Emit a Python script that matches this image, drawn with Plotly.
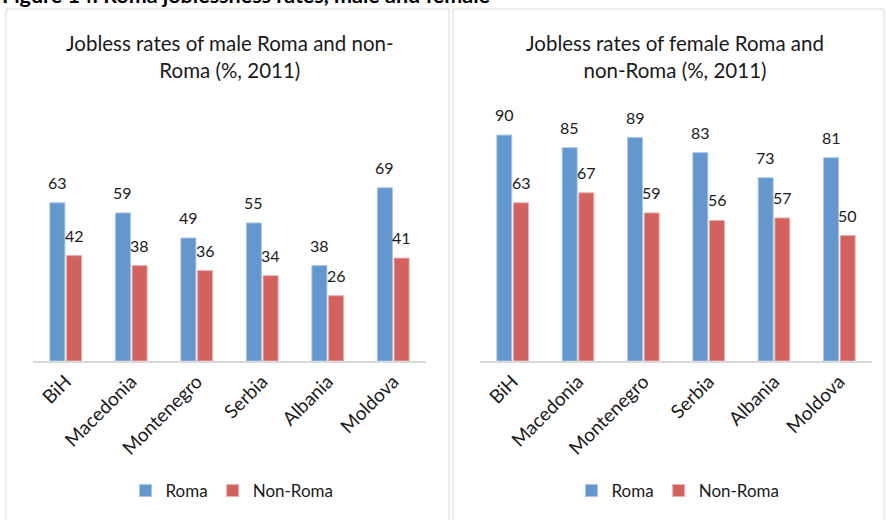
import plotly.graph_objects as go

# Data:
countries = ["BiH", "Macedonia", "Montenegro", "Serbia", "Albania", "Moldova"]
male_roma = [63, 59, 49, 55, 38, 69]
male_non_roma = [42, 38, 36, 34, 26, 41]
female_roma = [90, 85, 89, 83, 73, 81]
female_non_roma = [63, 67, 59, 56, 57, 50]

# Styles:
col_roma = "#6397CD"
col_non = "#D1625E"
font_name = "Lato"
W, H = 886, 520
bargap = 0.49
bargroupgap = 0.1

def px_x(p):
    return p / W

def px_y(p):
    return 1 - p / H

fig = go.Figure()

panels = [
    ("x", "y", "legend", male_roma, male_non_roma, 33, 426),
    ("x2", "y2", "legend2", female_roma, female_non_roma, 480, 872),
]
annotations = []
for xa, ya, leg, roma, non, x0, x1 in panels:
    # pixel offset of each bar centre from its category centre
    slot = (x1 - x0) / len(countries) * (1 - bargap) / 2
    for k, (name, vals, col, edge) in enumerate([("Roma", roma, col_roma, "#A9C6E6"),
                                                 ("Non-Roma", non, col_non, "#E8B0AE")]):
        fig.add_trace(
            go.Bar(
                x = countries,
                y = vals,
                name = name,
                xaxis = xa,
                yaxis = ya,
                legend = leg,
                marker = dict(color = col, line = dict(color = edge, width = 1)),
            )
        )
        # value labels, lifted a bit above the bars like the original
        for c, v in zip(countries, vals):
            annotations.append(
                dict(text = str(v), x = c, y = v, xref = xa, yref = ya,
                     showarrow = False, xanchor = "center", yanchor = "bottom",
                     xshift = (k - 0.5) * slot, yshift = 9,
                     font = dict(size = 16, color = "#1a1a1a", family = font_name))
            )

axis_common = dict(
    showgrid = False,
    zeroline = False,
    showline = True,
    linecolor = "#D9D9D9",
    linewidth = 2,
    ticks = "",
    tickangle = -45,
    tickfont = dict(size = 19, color = "#1a1a1a", family = font_name),
    fixedrange = True,
)
yaxis_common = dict(
    range = [0, 100],
    domain = [px_y(361), px_y(110)],
    visible = False,
)

legend_common = dict(
    orientation = "h",
    xanchor = "center",
    yanchor = "middle",
    y = px_y(491),
    font = dict(size = 17, color = "#1a1a1a", family = font_name),
    bgcolor = "rgba(0,0,0,0)",
    itemwidth = 30,
)

annotations += [
    dict(text = "Jobless rates of male Roma and non-<br>Roma (%, 2011)",
         x = px_x(230), y = px_y(56), xref = "paper", yref = "paper",
         showarrow = False, xanchor = "center", yanchor = "middle",
         font = dict(size = 20.5, color = "#1a1a1a", family = font_name)),
    dict(text = "Jobless rates of female Roma and<br>non-Roma (%, 2011)",
         x = px_x(675), y = px_y(56), xref = "paper", yref = "paper",
         showarrow = False, xanchor = "center", yanchor = "middle",
         font = dict(size = 20.5, color = "#1a1a1a", family = font_name)),
    # caption of the source document, cut off at the top edge as in the original
    dict(text = "<b>Figure 14: Roma joblessness rates, male and female</b>",
         x = 0, y = px_y(10), xref = "paper", yref = "paper",
         showarrow = False, xanchor = "left", yanchor = "bottom",
         font = dict(size = 21.5, color = "#000000", family = font_name)),
]

fig.update_layout(
    width = W,
    height = H,
    margin = dict(l = 0, r = 0, t = 0, b = 0),
    paper_bgcolor = "white",
    plot_bgcolor = "white",
    barmode = "group",
    bargap = bargap,
    bargroupgap = bargroupgap,
    font = dict(family = font_name),
    xaxis = dict(domain = [px_x(33), px_x(426)], **axis_common),
    xaxis2 = dict(domain = [px_x(480), px_x(872)], **axis_common),
    yaxis = dict(anchor = "x", **yaxis_common),
    yaxis2 = dict(anchor = "x2", **yaxis_common),
    legend = dict(x = px_x(232), **legend_common),
    legend2 = dict(x = px_x(678), **legend_common),
    shapes = [
        dict(type = "rect", xref = "paper", yref = "paper",
             x0 = px_x(6), x1 = px_x(449), y0 = px_y(530), y1 = px_y(9),
             line = dict(color = "#D9D9D9", width = 1)),
        dict(type = "rect", xref = "paper", yref = "paper",
             x0 = px_x(453), x1 = px_x(884), y0 = px_y(530), y1 = px_y(9),
             line = dict(color = "#D9D9D9", width = 1)),
    ],
    annotations = annotations,
)

# Page has a default body margin; remove it so the figure fills the window
fig.write_html("out.html", config = {"displayModeBar": False},
               post_script = "document.body.style.margin = '0';")
